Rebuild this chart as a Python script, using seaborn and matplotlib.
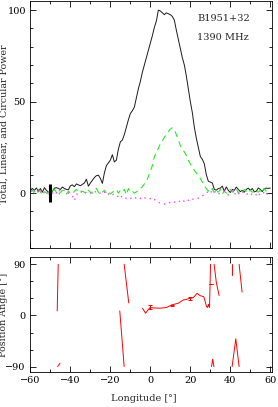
import numpy as np
import pandas as pd
import matplotlib
matplotlib.use("Agg")
import matplotlib.pyplot as plt
import seaborn as sns
from matplotlib.ticker import MultipleLocator

# -----------------------------
# DATA
# -----------------------------
longitude = list(range(-60, 61))

total_power = [
    1.3, 2.5, 1.5, 2.8, 1.0, 2.5, 0.5, 3.0, 1.5, 0.5,      # -60 .. -51
    0.3, 1.0, 2.7, 3.0, 2.5, 2.0, 3.3, 2.5, 2.0, 1.8,      # -50 .. -41
    4.0, 4.5, 3.5, 5.0, 4.5, 4.0, 4.8, 5.5, 7.6, 3.8,      # -40 .. -31
    5.5, 7.0, 8.5, 9.5, 9.8, 8.0, 5.3, 11.0, 15.0, 16.5,   # -30 .. -21
    18.0, 21.0, 17.0, 18.0, 24.0, 28.0, 29.0, 32.0, 36.0, 40.0,  # -20 .. -11
    43.5, 45.0, 47.0, 52.0, 57.0, 61.0, 66.0, 70.0, 74.0, 78.0,  # -10 .. -1
    82.0, 86.0, 90.5, 94.0, 100.0, 99.5, 98.5, 97.5, 98.5, 98.0,  # 0 .. 9
    97.5, 96.5, 94.5, 89.0, 84.0, 79.0, 74.0, 70.0, 64.0, 57.0,  # 10 .. 19
    50.0, 44.0, 36.0, 30.0, 25.0, 20.0, 18.5, 16.0, 10.0, 6.5,   # 20 .. 29
    6.0, 5.5, 2.0, 1.6, 2.5, 2.7, 3.8, 1.0, 3.4, 1.5,      # 30 .. 39
    0.3, 2.0, 1.5, 3.3, 2.0, 0.8, 1.5, 0.5, 2.0, 2.7,      # 40 .. 49
    1.5, 2.5, 0.7, 1.0, 2.8, 2.0, 0.8, 2.5, 2.7, 2.6,      # 50 .. 59
    2.7,                                                   # 60
]

linear_power = [
    0.5, 1.5, 0.0, 1.0, 2.0, 0.5, -0.5, 1.0, 0.0, 0.5,
    -0.5, 1.0, 2.0, 0.5, -1.0, 0.5, 1.5, 0.0, -0.5, 1.0,
    0.0, -0.5, 1.0, 2.0, 0.5, 0.0, 1.0, 0.5, -0.5, 1.5,
    0.5, 0.0, 1.0, 2.5, 0.5, -0.5, 0.5, 1.5, 0.0, 1.0,
    -0.5, 0.5, 1.0, 2.0, 0.0, 1.5, 0.5, 2.0, -1.0, 2.5,
    0.5, 1.0, 0.0, 0.7, 1.5, 2.5, 3.5, 5.0, 6.5, 9.0,
    12.0, 15.0, 20.0, 22.0, 24.5, 27.0, 28.5, 30.5, 32.0, 33.5,
    35.0, 35.7, 34.5, 32.0, 29.0, 26.0, 24.0, 22.5, 20.5, 18.0,
    16.0, 14.0, 12.5, 11.0, 9.5, 8.0, 6.0, 4.0, 2.5, 1.2,
    0.5, 2.5, 0.0, 1.5, 0.5, 2.0, -0.5, 1.0, 0.0, 1.5,
    2.0, 0.5, 1.0, 2.5, 0.0, 1.5, 0.5, 2.0, 1.0, 0.0,
    1.5, 0.5, 0.7, 2.0, 0.5, 1.5, 0.0, 2.5, 1.0, 0.5,
    1.0,
]

circular_power = [
    2.5, 3.0, 1.0, 2.0, 0.0, 1.5, -0.5, 0.5, 1.0, -0.5,
    0.5, 0.0, 1.0, 0.0, 2.0, 1.0, 0.5, 1.5, 1.0, 0.0,
    -0.5, -1.5, -4.0, -1.0, 0.5, 0.5, 1.5, 1.0, 0.0, 0.5,
    0.0, -0.5, 0.5, 1.0, 0.0, 0.0, -0.5, 0.5, -1.0, -0.5,
    -1.5, -1.0, -0.5, -1.5, -2.0, -1.0, -2.5, -2.0, -3.0, -2.5,
    -3.0, -2.5, -2.0, -3.0, -2.5, -3.0, -2.0, -2.5, -3.0, -3.5,
    -3.0, -4.0, -3.5, -4.5, -5.0, -5.5, -6.0, -6.0, -6.2, -5.5,
    -5.0, -4.5, -5.0, -4.5, -4.0, -5.0, -4.0, -4.5, -3.5, -4.0,
    -3.0, -3.5, -3.0, -2.5, -2.8, -2.0, -1.5, -1.0, 0.0, 1.0,
    0.0, 1.5, 0.5, 1.0, -0.5, 0.0, 0.5, 1.0, -0.5, -1.0,
    0.0, 1.0, -1.0, 0.5, -0.5, 0.5, 1.0, -0.5, 0.0, -1.0,
    -1.5, 0.0, -0.5, -1.0, -2.0, 0.0, -0.5, 0.5, -1.0, 0.0,
    -0.5,
]

# position angle, one list per unbroken stretch (wraps at +/-90)
pa_segments = [
    ([-46.6, -46.1], [8, 90]),
    ([-46.4, -45.2], [-90, -84]),
    ([-15.3, -13.1], [8, -90]),
    ([-13.1, -10.8], [90, 22]),
    ([-3.9, -2.4, -0.25, 4.75, 8.1, 10.6, 13.9, 16.4, 19.75, 21.4,
      23.4, 24.75, 26.75, 28.1, 28.6, 29.1, 29.6, 30.1],
     [12.7, 3.9, 13.7, 12.7, 14.0, 18.5, 21.4, 27.0, 30.0, 31.0,
      39.0, 35.0, 33.0, 15.5, 14.0, 19.7, 14.0, 90.0]),
    ([30.6, 31.2, 31.8], [-90, -77, -90]),
    ([31.9, 33.0, 34.4], [90, 58, 35]),
    ([40.9, 40.9], [90, 71]),
    ([40.9, 42.75, 44.4], [-90, -41, -90]),
    ([44.4, 45.9], [90, 41]),
]
pa_err_lon = [-0.25, 10.6, 19.75, 30.1]
pa_err_val = [14.5, 18.0, 29.5, 55.0]
pa_err = [3.5, 1.0, 3.0, 0.5]

source_name = "B1951+32"
frequency = "1390 MHz"

# -----------------------------
# DATAFRAMES
# -----------------------------
prof = pd.DataFrame({
    "lon": longitude,
    "total": total_power,
    "linear": linear_power,
    "circular": circular_power,
})

pa_rows = []
for i, (xs, ys) in enumerate(pa_segments):
    for x, y in zip(xs, ys):
        pa_rows.append({"seg": i, "lon": x, "pa": y})
pa_df = pd.DataFrame(pa_rows)

# -----------------------------
# FIGURE
# -----------------------------
sns.set_style("ticks")
plt.rcParams["font.family"] = ["DejaVu Serif"]
plt.rcParams["font.size"] = 7

fig = plt.figure(figsize=(2.78, 4.07), dpi=100)
ax1 = fig.add_axes([0.108, 0.3907, 0.870, 0.607])
ax2 = fig.add_axes([0.108, 0.0853, 0.870, 0.284])

sns.lineplot(data=prof, x="lon", y="total", ax=ax1, color="#1a1a1a",
             lw=0.7, estimator=None, sort=False)
sns.lineplot(data=prof, x="lon", y="linear", ax=ax1, color="#22ee22",
             lw=0.8, estimator=None, sort=False, linestyle=(0, (5.5, 4)))
sns.lineplot(data=prof, x="lon", y="circular", ax=ax1, color="#ff44ff",
             lw=1.0, estimator=None, sort=False, linestyle=(0, (1, 3)))
ax1.errorbar([-50], [0], yerr=[5], fmt="none", ecolor="black", elinewidth=2.2)

ax1.text(0.69, 0.918, source_name, transform=ax1.transAxes, fontsize=7)
ax1.text(0.69, 0.842, frequency, transform=ax1.transAxes, fontsize=7)

sns.lineplot(data=pa_df, x="lon", y="pa", units="seg", ax=ax2, color="red",
             lw=0.7, estimator=None, sort=False)
ax2.errorbar(pa_err_lon, pa_err_val, yerr=pa_err, fmt="none", ecolor="red",
             elinewidth=0.7, capsize=1.2, capthick=0.7)

# -----------------------------
# AXES STYLING
# -----------------------------
ax1.set_xlim(-60.2, 60.8)
ax1.set_ylim(-30, 105)
ax2.set_xlim(-60.2, 60.8)
ax2.set_ylim(-100, 103.4)

ax1.yaxis.set_major_locator(MultipleLocator(50))
ax1.yaxis.set_minor_locator(MultipleLocator(10))
ax2.yaxis.set_major_locator(MultipleLocator(90))
ax2.yaxis.set_minor_locator(MultipleLocator(30))
for ax in (ax1, ax2):
    ax.xaxis.set_major_locator(MultipleLocator(20))
    ax.xaxis.set_minor_locator(MultipleLocator(10))
    ax.tick_params(which="both", direction="in", top=True, right=True,
                   width=0.6, colors="black", labelsize=7, pad=3)
    ax.tick_params(which="major", length=4)
    ax.tick_params(which="minor", length=2.5)
    for sp in ax.spines.values():
        sp.set_linewidth(0.6)
        sp.set_color("black")

ax1.tick_params(labelbottom=False)
ax1.set_xlabel("")
ax1.set_ylabel("Total, Linear, and Circular Power", fontsize=6.8)
ax1.yaxis.set_label_coords(-0.09, 0.5)

ax2.set_ylabel("Position Angle [\u00b0]", fontsize=6.8)
ax2.yaxis.set_label_coords(-0.09, 0.5)
ax2.set_xlabel("Longitude [\u00b0]", fontsize=7)
ax2.xaxis.set_label_coords(0.47, -0.185)

fig.savefig("out.png", dpi=100)
